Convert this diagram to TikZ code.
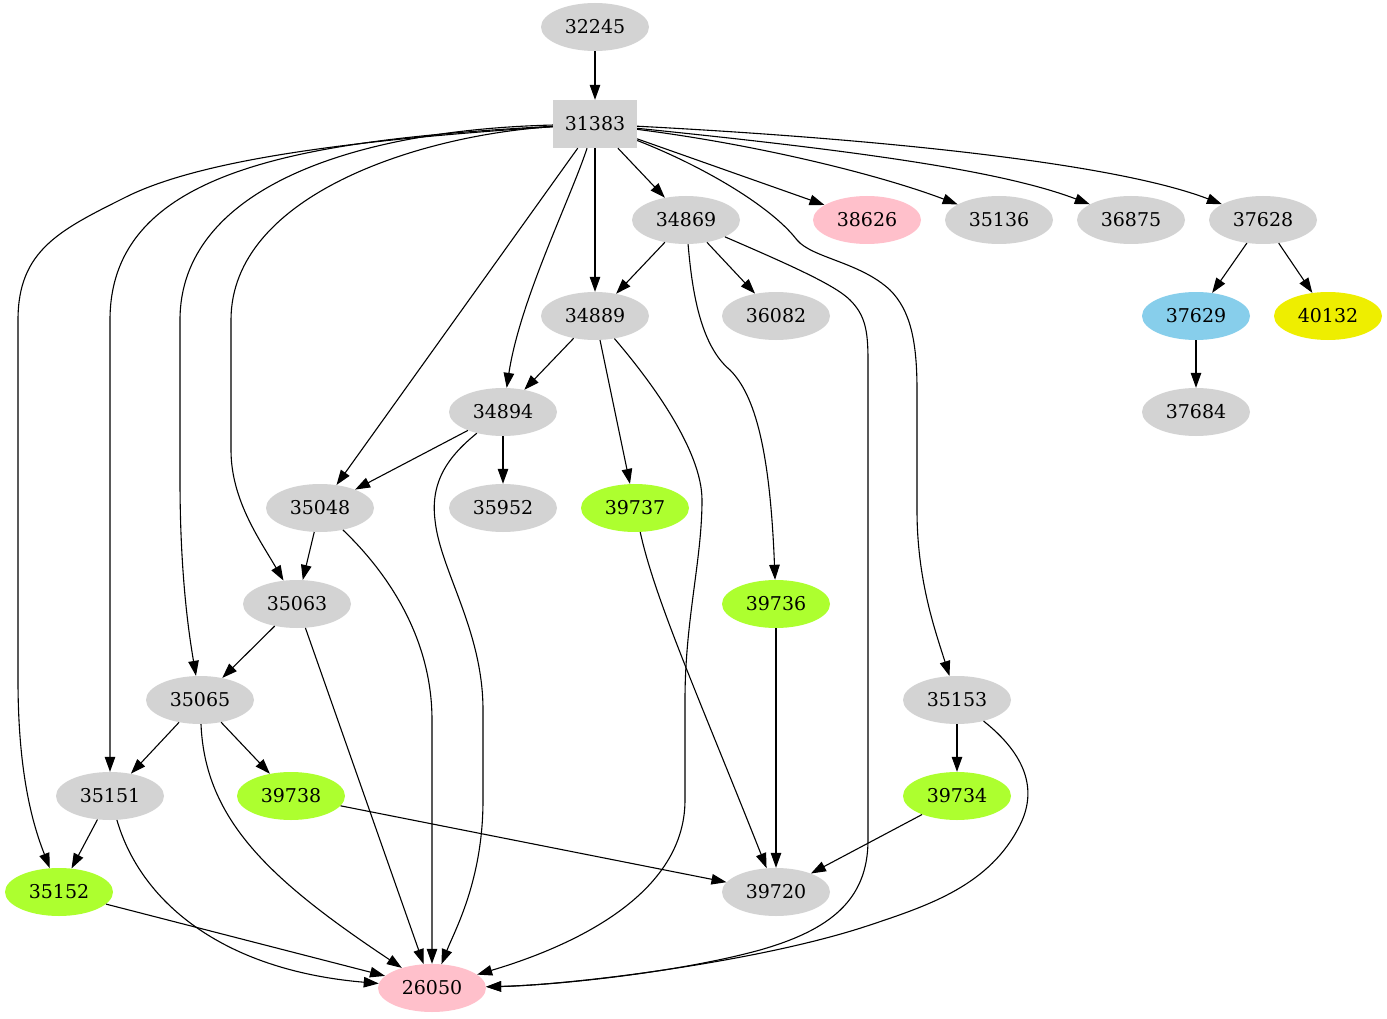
\documentclass[tikz,border=0pt]{standalone}
\usepackage{fontspec}
\setmainfont{DejaVu Serif}
\usepackage{tikz}
\usetikzlibrary{arrows.meta,shapes.geometric}
\definecolor{gvgray}{HTML}{D3D3D3}
\definecolor{gvpink}{HTML}{FFC0CB}
\definecolor{gvgreen}{HTML}{ADFF2F}
\definecolor{gvblue}{HTML}{87CEEB}
\definecolor{gvyellow}{HTML}{EEEE00}
\tikzset{
  job/.style={ellipse, fill=gvgray, minimum width=108pt, minimum height=48pt,
    inner sep=0pt, font=\fontsize{19}{22}\selectfont},
  root/.style={rectangle, fill=gvgray, minimum width=84pt, minimum height=48pt,
    inner sep=0pt, font=\fontsize{19}{22}\selectfont},
  dep/.style={-{Triangle[length=15pt,width=10.5pt]}, line width=1.1pt}
}

\begin{document}
\begin{tikzpicture}[x=1pt, y=-1pt]
    \useasboundingbox (0,0) rectangle (1387,1019);

    % jobs, one row per rank
    \node[job] (j32245) at (595,27) {32245};
    \node[root] (j31383) at (595,124) {31383};
    \node[job] (j34869) at (686,220) {34869};
    \node[job, fill=gvpink] (j38626) at (867,220) {38626};
    \node[job] (j35136) at (999,220) {35136};
    \node[job] (j36875) at (1131,220) {36875};
    \node[job] (j37628) at (1263,220) {37628};
    \node[job] (j34889) at (595,316) {34889};
    \node[job] (j36082) at (776,316) {36082};
    \node[job, fill=gvblue] (j37629) at (1196,316) {37629};
    \node[job, fill=gvyellow] (j40132) at (1328,316) {40132};
    \node[job] (j34894) at (503,412) {34894};
    \node[job] (j37684) at (1196,412) {37684};
    \node[job] (j35048) at (320,508) {35048};
    \node[job] (j35952) at (503,508) {35952};
    \node[job, fill=gvgreen] (j39737) at (635,508) {39737};
    \node[job] (j35063) at (297,604) {35063};
    \node[job, fill=gvgreen] (j39736) at (776,604) {39736};
    \node[job] (j35065) at (200,700) {35065};
    \node[job] (j35153) at (957,700) {35153};
    \node[job] (j35151) at (110,796) {35151};
    \node[job, fill=gvgreen] (j39738) at (291,796) {39738};
    \node[job, fill=gvgreen] (j39734) at (957,796) {39734};
    \node[job, fill=gvgreen] (j35152) at (59,892) {35152};
    \node[job] (j39720) at (776,892) {39720};
    \node[job, fill=gvpink] (j26050) at (432,988) {26050};

    % straight dependencies
    \draw[dep] (j32245) -- (j31383);
    \draw[dep] (j31383) -- (j34869);
    \draw[dep] (j31383) -- (j38626);
    \draw[dep] (j31383) .. controls (760,145) and (880,175) .. (j35136);
    \draw[dep] (j31383) -- (j34889);
    \draw[dep] (j31383) -- (j35048);
    \draw[dep] (j34869) -- (j34889);
    \draw[dep] (j34869) -- (j36082);
    \draw[dep] (j37628) -- (j37629);
    \draw[dep] (j37628) -- (j40132);
    \draw[dep] (j37629) -- (j37684);
    \draw[dep] (j34889) -- (j34894);
    \draw[dep] (j34889) -- (j39737);
    \draw[dep] (j34894) -- (j35048);
    \draw[dep] (j34894) -- (j35952);
    \draw[dep] (j35048) -- (j35063);
    \draw[dep] (j35063) -- (j35065);
    \draw[dep] (j35063) -- (j26050);
    \draw[dep] (j39736) -- (j39720);
    \draw[dep] (j35065) -- (j35151);
    \draw[dep] (j35065) -- (j39738);
    \draw[dep] (j35153) -- (j39734);
    \draw[dep] (j35151) -- (j35152);
    \draw[dep] (j35152) -- (j26050);
    \draw[dep] (j39738) -- (j39720);
    \draw[dep] (j39734) -- (j39720);

    % curved ones from the root
    \draw[dep] (j31383) .. controls (850,150) and (1000,170) .. (j36875);
    \draw[dep] (j31383) .. controls (900,140) and (1120,165) .. (j37628);
    \draw[dep] (j31383) .. controls (570,200) and (520,300) .. (j34894);
    \draw[dep] (j31383) .. controls (420,135) and (231,195) .. (231,320) -- (231,450)
        .. controls (231,500) and (260,540) .. (j35063);
    \draw[dep] (j31383) .. controls (350,130) and (180,190) .. (180,320) -- (180,480)
        .. controls (180,580) and (190,640) .. (j35065);
    \draw[dep] (j31383) .. controls (300,140) and (110,170) .. (110,320) -- (j35151);
    \draw[dep] (j31383) .. controls (350,140) and (200,160) .. (126,197)
        .. controls (60,230) and (18,250) .. (18,320) -- (18,680)
        .. controls (18,780) and (35,830) .. (j35152);
    \draw[dep] (j31383) .. controls (700,165) and (770,205) .. (797,240)
        .. controls (812,258) and (860,262) .. (890,290)
        .. controls (910,310) and (917,340) .. (917,390) -- (917,510)
        .. controls (917,580) and (935,630) .. (j35153);

    % the rest
    \draw[dep] (j34869) .. controls (692,290) and (700,345) .. (730,370)
        .. controls (755,395) and (770,450) .. (j39736);
    \draw[dep] (j34869) .. controls (790,265) and (835,285) .. (850,300)
        .. controls (865,315) and (868,330) .. (868,360) -- (868,840)
        .. controls (868,900) and (830,930) .. (760,950)
        .. controls (680,972) and (560,985) .. (j26050);
    \draw[dep] (j34889) .. controls (650,380) and (702,450) .. (702,500)
        .. controls (702,560) and (685,620) .. (685,700) -- (685,800)
        .. controls (685,900) and (560,950) .. (j26050);
    \draw[dep] (j34894) .. controls (450,455) and (430,480) .. (435,520)
        .. controls (440,570) and (483,630) .. (483,710) -- (483,800)
        .. controls (483,880) and (455,930) .. (j26050);
    \draw[dep] (j35048) .. controls (390,575) and (432,640) .. (432,720) -- (j26050);
    \draw[dep] (j39737) .. controls (655,600) and (700,700) .. (j39720);
    \draw[dep] (j35065) .. controls (205,820) and (270,880) .. (j26050);
    \draw[dep] (j35153) .. controls (1020,750) and (1040,785) .. (1020,825)
        .. controls (990,885) and (930,905) .. (870,925)
        .. controls (760,962) and (570,985) .. (j26050);
    \draw[dep] (j35151) .. controls (140,900) and (220,970) .. (j26050);

\end{tikzpicture}
\end{document}
